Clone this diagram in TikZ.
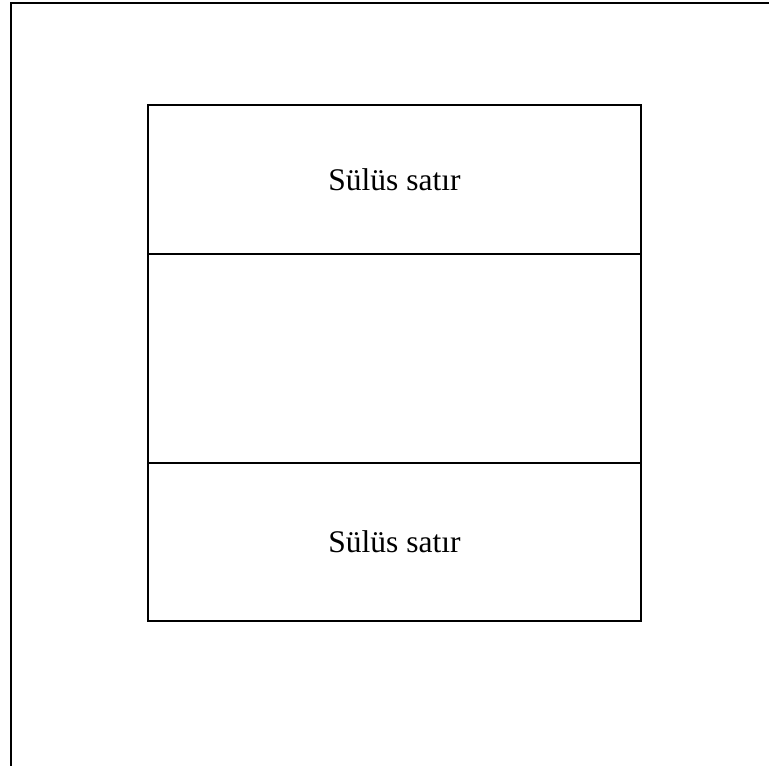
\documentclass[tikz,border=0pt]{standalone}
\usepackage{fontspec}
\setmainfont{Liberation Serif}
\usetikzlibrary{positioning}
\begin{document}
\begin{tikzpicture}[x=1pt,y=-1pt,
  row/.style={draw, line width=1.3pt, minimum width=493pt, inner sep=0pt, outer sep=0pt, font=\fontsize{31.5}{36}\selectfont}]
\useasboundingbox (0,0) rectangle (769,766);
% page frame
\coordinate (frame ne) at (769,3);
\coordinate (frame nw) at (11,3);
\coordinate (frame sw) at (11,766);
\draw[line width=1.3pt] (frame ne) -- (frame nw) -- (frame sw);
% rows
\node[row, minimum height=149pt, anchor=north west] (upper) at (148,105) {Sülüs satır};
\node[row, minimum height=209pt, below=0pt of upper] (middle) {};
\node[row, minimum height=158pt, below=0pt of middle] (lower) {Sülüs satır};
\end{tikzpicture}
\end{document}
